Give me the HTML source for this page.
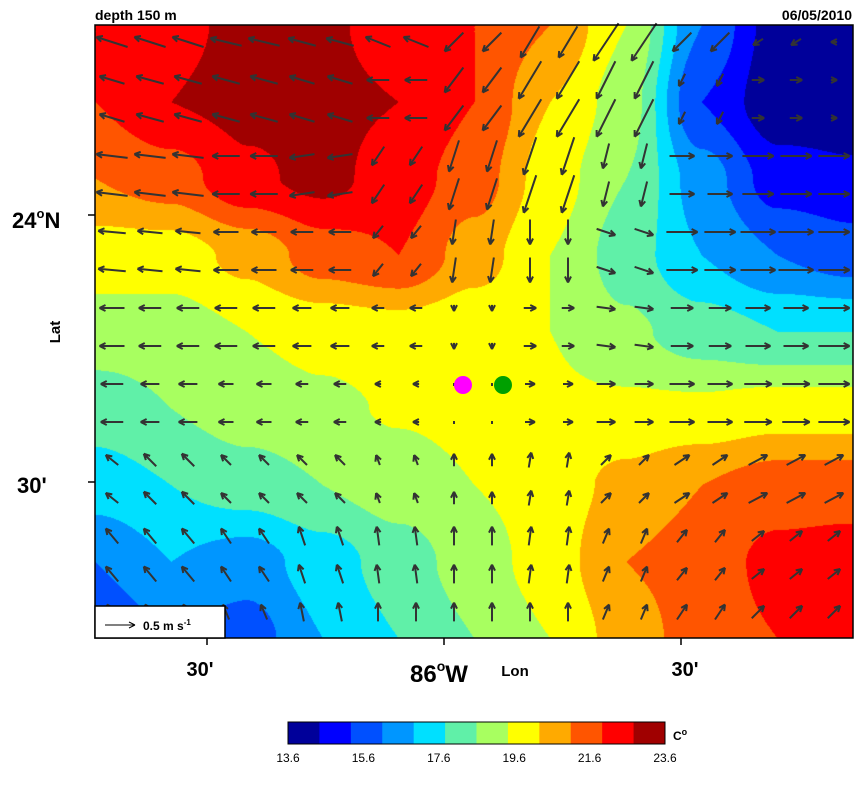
<!DOCTYPE html>
<html><head><meta charset="utf-8">
<style>
body{margin:0;background:#fff;width:863px;height:792px;overflow:hidden;font-family:"Liberation Sans",Arial,sans-serif;}
#wrap{position:relative;width:863px;height:792px;}
#field{position:absolute;left:95px;top:25px;}
svg{position:absolute;left:0;top:0;}
</style></head>
<body>
<div id="wrap">
<canvas id="field" width="758" height="613"></canvas>
<svg id="svg" width="863" height="792" xmlns="http://www.w3.org/2000/svg">
<text x="95" y="20" font-size="14" font-weight="bold">depth 150 m</text>
<text x="852" y="20" font-size="14" font-weight="bold" text-anchor="end">06/05/2010</text>
<g id="vec"></g>
<rect x="95" y="25" width="758" height="613" fill="none" stroke="#000" stroke-width="1.5"/>
<g>
<line x1="88" y1="215" x2="95" y2="215" stroke="#000" stroke-width="1.5"/>
<line x1="88" y1="482" x2="95" y2="482" stroke="#000" stroke-width="1.5"/>
<text x="12" y="228" font-size="22" font-weight="bold">24<tspan dy="-10" font-size="13">o</tspan><tspan dy="10">N</tspan></text>
<text x="17" y="493" font-size="22" font-weight="bold">30'</text>
<text x="60" y="332" font-size="15" font-weight="bold" text-anchor="middle" transform="rotate(-90 60 332)">Lat</text>
</g>
<g>
<line x1="207" y1="638" x2="207" y2="645" stroke="#000" stroke-width="1.5"/>
<line x1="444" y1="638" x2="444" y2="645" stroke="#000" stroke-width="1.5"/>
<line x1="681" y1="638" x2="681" y2="645" stroke="#000" stroke-width="1.5"/>
<text x="200" y="676" font-size="20" font-weight="bold" text-anchor="middle">30'</text>
<text x="410" y="682" font-size="24" font-weight="bold">86<tspan dy="-11" font-size="14">o</tspan><tspan dy="11">W</tspan></text>
<text x="515" y="676" font-size="15" font-weight="bold" text-anchor="middle">Lon</text>
<text x="685" y="676" font-size="20" font-weight="bold" text-anchor="middle">30'</text>
</g>
<g>
<rect x="95" y="606" width="130" height="32" fill="#fff" stroke="#000" stroke-width="1.5"/>
<line x1="105" y1="625" x2="135" y2="625" stroke="#000" stroke-width="1"/>
<path d="M135 625 l-6 -3 M135 625 l-6 3" stroke="#000" stroke-width="1"/>
<text x="143" y="630" font-size="12" font-weight="bold">0.5 m s<tspan dy="-5" font-size="8">-1</tspan></text>
</g>
<circle cx="463" cy="385" r="9" fill="#ff00ff"/>
<circle cx="503" cy="385" r="9" fill="#00a000"/>
<g id="cbar"></g>
<text x="673" y="740" font-size="12" font-weight="bold">C<tspan dy="-5" font-size="9">o</tspan></text>
</svg>
</div>
<script>
const levelColors=["#00009a","#0000ff","#0050ff","#0096ff","#00e0ff","#60f0a8","#a8ff60","#ffff00","#ffaa00","#ff5500","#ff0000","#a00000"];
const colorbarLabels=["13.6","15.6","17.6","19.6","21.6","23.6"];
const tempRows=[
[10,10.8,11.2,11.2,10.5,10,9,7,3,0.5,0.5],
[10,11,11.3,11.3,11,10,8,6.5,2,0.3,0.3],
[9,9.5,10.8,11.3,10.5,9.5,7.5,6,3.5,1.5,1.2],
[7.5,7.5,8.3,9.5,10,8.5,7,5.5,4,3,2.5],
[6.5,6.5,7,7.3,7.5,7.2,7,6.2,5.5,5,5],
[5.5,6,6.5,6.8,7.1,7.3,7.2,7.2,7.2,7.5,7.5],
[4.5,5,5.5,6,6.5,7,7.5,8.3,9,9.5,9.5],
[3,4,3.5,4.5,5.5,6.5,7.5,9,9.5,10.3,10.5],
[2,3,2.5,4,5,6,7,8.5,9.5,10,10]];
const uRows=[
[-25,-25,-25,-22,-20,-15,-15,-20,-15,-8,-5],
[-20,-22,-22,-20,-18,-15,-18,-15,-5,10,5],
[-25,-25,-22,-20,-10,-8,-10,-5,20,25,25],
[-22,-20,-20,-18,-8,-3,0,15,25,28,25],
[-20,-18,-18,-15,-10,0,10,15,18,20,25],
[-18,-15,-12,-10,-5,0,8,15,20,22,25],
[-10,-10,-8,-8,-3,0,2,8,12,15,15],
[-10,-10,-8,-5,-2,0,2,5,8,10,10],
[-8,-8,-5,-3,0,0,0,5,8,10,10]];
const vRows=[
[8,8,6,6,8,-15,-25,-30,-15,-5,0],
[6,6,6,6,0,-20,-30,-30,-10,0,0],
[3,3,0,-3,-15,-25,-30,-20,0,0,0],
[2,2,0,0,-10,-20,-20,-5,0,0,0],
[0,0,0,0,0,-5,0,-2,0,0,0],
[0,0,0,0,0,0,0,0,0,0,0],
[8,10,8,8,8,10,12,8,8,8,8],
[12,12,12,15,15,15,15,12,10,8,8],
[12,12,12,15,15,15,15,12,12,10,10]];

const W=758,H=613,NC=11,NR=9;
function hex(c){return [parseInt(c.substr(1,2),16),parseInt(c.substr(3,2),16),parseInt(c.substr(5,2),16)];}
const rgb=levelColors.map(hex);
function sm(t){return t*t*(3-2*t);}
function sample(x,y){
  const gx=x/W*(NC-1),gy=y/H*(NR-1);
  const i=Math.min(NC-2,Math.floor(gx)),j=Math.min(NR-2,Math.floor(gy));
  const fx=sm(gx-i),fy=sm(gy-j);
  const a=tempRows[j][i],b=tempRows[j][i+1],c=tempRows[j+1][i],d=tempRows[j+1][i+1];
  return a*(1-fx)*(1-fy)+b*fx*(1-fy)+c*(1-fx)*fy+d*fx*fy;
}
const ctx=document.getElementById('field').getContext('2d');
const img=ctx.createImageData(W,H);
for(let y=0;y<H;y++)for(let x=0;x<W;x++){
  let k=Math.floor(sample(x,y));k=Math.max(0,Math.min(11,k));
  const p=(y*W+x)*4,c=rgb[k];
  img.data[p]=c[0];img.data[p+1]=c[1];img.data[p+2]=c[2];img.data[p+3]=255;
}
ctx.putImageData(img,0,0);

const NS="http://www.w3.org/2000/svg";
const vg=document.getElementById('vec');
const S=1.25;
for(let r=0;r<16;r++)for(let q=0;q<20;q++){
  const px=112+q*38,py=42+r*38;
  const i=Math.round((px-95)/W*(NC-1)),j=Math.round((py-25)/H*(NR-1));
  const u=uRows[j][i]*S,v=-vRows[j][i]*S;
  const L=Math.hypot(u,v);
  const g=document.createElementNS(NS,'path');
  
  
  let d='M'+(px-u/2)+' '+(py-v/2)+' L'+(px+u/2)+' '+(py+v/2);
  if(L>2){const ux=u/L,uy=v/L,ex=px+u/2,ey=py+v/2;
    d+=' M'+ex+' '+ey+' L'+(ex-6*ux+3*uy)+' '+(ey-6*uy-3*ux)+' M'+ex+' '+ey+' L'+(ex-6*ux-3*uy)+' '+(ey-6*uy+3*ux);}
  else d='M'+px+' '+(py-1)+' L'+px+' '+(py+2);
  g.setAttribute('d',d);g.setAttribute('stroke','#333');g.setAttribute('stroke-width','2');g.setAttribute('fill','none');
  vg.appendChild(g);
}
const cb=document.getElementById('cbar');
const cx0=288,cw=377/12;
levelColors.forEach((c,k)=>{
  const r=document.createElementNS(NS,'rect');
  
  
  r.setAttribute('x',cx0+k*cw);r.setAttribute('y',722);r.setAttribute('width',cw+0.5);r.setAttribute('height',22);r.setAttribute('fill',c);
  cb.appendChild(r);
});
const fr=document.createElementNS(NS,'rect');


fr.setAttribute('x',cx0);fr.setAttribute('y',722);fr.setAttribute('width',377);fr.setAttribute('height',22);fr.setAttribute('fill','none');fr.setAttribute('stroke','#000');
cb.appendChild(fr);
colorbarLabels.forEach((t,k)=>{
  const tx=document.createElementNS(NS,'text');
  
  
  tx.setAttribute('x',cx0+k*377/5);tx.setAttribute('y',762);tx.setAttribute('font-size','12');tx.setAttribute('text-anchor','middle');
  tx.textContent=t;cb.appendChild(tx);
});
</script>
</body></html>
